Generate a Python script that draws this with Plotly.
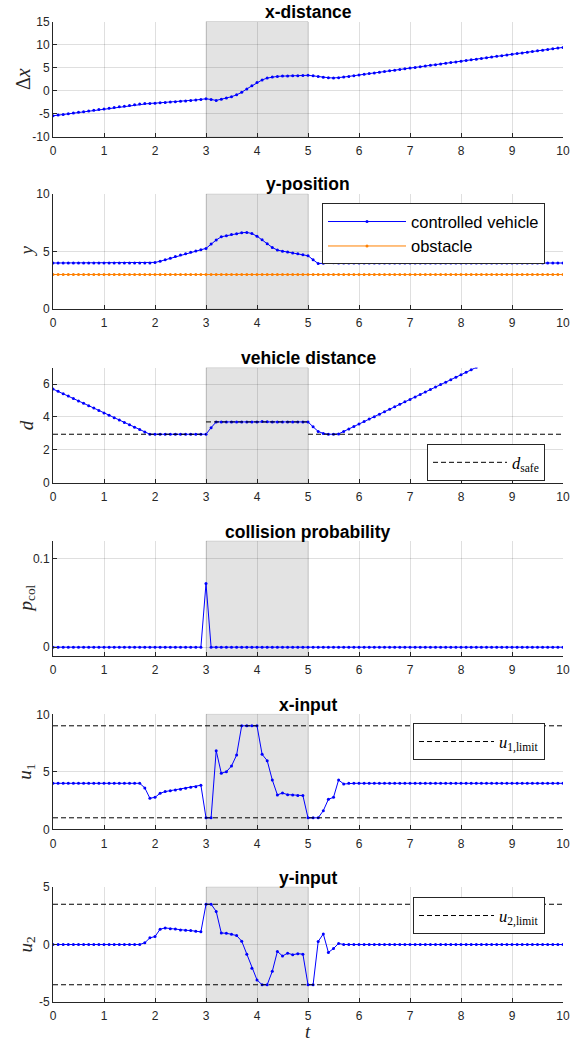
import plotly.graph_objects as go

# ---------------- data ----------------
t = [0.0, 0.1, 0.2, 0.3, 0.4, 0.5, 0.6, 0.7, 0.8, 0.9,
     1.0, 1.1, 1.2, 1.3, 1.4, 1.5, 1.6, 1.7, 1.8, 1.9,
     2.0, 2.1, 2.2, 2.3, 2.4, 2.5, 2.6, 2.7, 2.8, 2.9,
     3.0, 3.1, 3.2, 3.3, 3.4, 3.5, 3.6, 3.7, 3.8, 3.9,
     4.0, 4.1, 4.2, 4.3, 4.4, 4.5, 4.6, 4.7, 4.8, 4.9,
     5.0, 5.1, 5.2, 5.3, 5.4, 5.5, 5.6, 5.7, 5.8, 5.9,
     6.0, 6.1, 6.2, 6.3, 6.4, 6.5, 6.6, 6.7, 6.8, 6.9,
     7.0, 7.1, 7.2, 7.3, 7.4, 7.5, 7.6, 7.7, 7.8, 7.9,
     8.0, 8.1, 8.2, 8.3, 8.4, 8.5, 8.6, 8.7, 8.8, 8.9,
     9.0, 9.1, 9.2, 9.3, 9.4, 9.5, 9.6, 9.7, 9.8, 9.9,
     10.0]

dx = [-5.50, -5.35, -5.20, -5.05, -4.90, -4.75, -4.60, -4.45, -4.30, -4.15,
      -4.00, -3.85, -3.70, -3.55, -3.40, -3.25, -3.10, -2.95, -2.85, -2.80,
      -2.75, -2.68, -2.60, -2.52, -2.44, -2.36, -2.28, -2.18, -2.06, -1.94,
      -1.80, -1.95, -2.15, -1.90, -1.65, -1.35, -0.95, -0.40, 0.35, 1.05,
      1.75, 2.30, 2.70, 2.95, 3.07, 3.13, 3.17, 3.20, 3.23, 3.27,
      3.30, 3.18, 3.02, 2.88, 2.78, 2.72, 2.78, 2.92, 3.07, 3.22,
      3.37, 3.52, 3.67, 3.82, 3.97, 4.12, 4.27, 4.42, 4.57, 4.72,
      4.87, 5.02, 5.17, 5.32, 5.47, 5.62, 5.77, 5.92, 6.07, 6.22,
      6.37, 6.52, 6.67, 6.82, 6.97, 7.12, 7.27, 7.42, 7.57, 7.72,
      7.87, 8.02, 8.17, 8.32, 8.47, 8.62, 8.77, 8.92, 9.07, 9.22,
      9.37]

y_vehicle = [4.00, 4.00, 4.00, 4.00, 4.00, 4.00, 4.00, 4.00, 4.00, 4.00,
             4.00, 4.00, 4.00, 4.00, 4.00, 4.00, 4.00, 4.00, 4.00, 4.00,
             4.05, 4.15, 4.28, 4.42, 4.56, 4.69, 4.81, 4.93, 5.05, 5.15,
             5.27, 5.65, 6.00, 6.28, 6.38, 6.47, 6.55, 6.63, 6.66, 6.56,
             6.33, 6.03, 5.68, 5.35, 5.12, 5.03, 4.96, 4.88, 4.80, 4.72,
             4.63, 4.28, 3.95, 3.97, 4.07, 4.02, 4.00, 4.00, 4.00, 4.00,
             4.00, 4.00, 4.00, 4.00, 4.00, 4.00, 4.00, 4.00, 4.00, 4.00,
             4.00, 4.00, 4.00, 4.00, 4.00, 4.00, 4.00, 4.00, 4.00, 4.00,
             4.00, 4.00, 4.00, 4.00, 4.00, 4.00, 4.00, 4.00, 4.00, 4.00,
             4.00, 4.00, 4.00, 4.00, 4.00, 4.00, 4.00, 4.00, 4.00, 4.00,
             4.00]

y_obstacle = [3.0, 3.0, 3.0, 3.0, 3.0, 3.0, 3.0, 3.0, 3.0, 3.0,
              3.0, 3.0, 3.0, 3.0, 3.0, 3.0, 3.0, 3.0, 3.0, 3.0,
              3.0, 3.0, 3.0, 3.0, 3.0, 3.0, 3.0, 3.0, 3.0, 3.0,
              3.0, 3.0, 3.0, 3.0, 3.0, 3.0, 3.0, 3.0, 3.0, 3.0,
              3.0, 3.0, 3.0, 3.0, 3.0, 3.0, 3.0, 3.0, 3.0, 3.0,
              3.0, 3.0, 3.0, 3.0, 3.0, 3.0, 3.0, 3.0, 3.0, 3.0,
              3.0, 3.0, 3.0, 3.0, 3.0, 3.0, 3.0, 3.0, 3.0, 3.0,
              3.0, 3.0, 3.0, 3.0, 3.0, 3.0, 3.0, 3.0, 3.0, 3.0,
              3.0, 3.0, 3.0, 3.0, 3.0, 3.0, 3.0, 3.0, 3.0, 3.0,
              3.0, 3.0, 3.0, 3.0, 3.0, 3.0, 3.0, 3.0, 3.0, 3.0,
              3.0]

d = [5.70, 5.56, 5.41, 5.27, 5.12, 4.98, 4.83, 4.69, 4.54, 4.40,
     4.25, 4.11, 3.96, 3.82, 3.67, 3.53, 3.38, 3.24, 3.09, 2.95,
     2.95, 2.95, 2.95, 2.95, 2.95, 2.95, 2.95, 2.95, 2.95, 2.95,
     2.95, 3.35, 3.70, 3.70, 3.70, 3.70, 3.70, 3.70, 3.70, 3.70,
     3.70, 3.73, 3.71, 3.70, 3.70, 3.70, 3.70, 3.70, 3.70, 3.70,
     3.70, 3.40, 3.12, 3.00, 2.95, 2.95, 2.97, 3.12, 3.27, 3.42,
     3.57, 3.72, 3.87, 4.02, 4.17, 4.32, 4.47, 4.62, 4.77, 4.92,
     5.07, 5.22, 5.37, 5.52, 5.67, 5.82, 5.97, 6.12, 6.27, 6.42,
     6.57, 6.72, 6.87, 7.02, 7.17, 7.32, 7.47, 7.62, 7.77, 7.92,
     8.07, 8.22, 8.37, 8.52, 8.67, 8.82, 8.97, 9.12, 9.27, 9.42,
     9.57]

# safe distance (piecewise, gaps marked by None)
dsafe_t = [0, 3, None, 3, 5, None, 5, 10]
dsafe_v = [2.95, 2.95, None, 3.70, 3.70, None, 2.95, 2.95]

p_col = [0, 0, 0, 0, 0, 0, 0, 0, 0, 0,
         0, 0, 0, 0, 0, 0, 0, 0, 0, 0,
         0, 0, 0, 0, 0, 0, 0, 0, 0, 0,
         0.072, 0, 0, 0, 0, 0, 0, 0, 0, 0,
         0, 0, 0, 0, 0, 0, 0, 0, 0, 0,
         0, 0, 0, 0, 0, 0, 0, 0, 0, 0,
         0, 0, 0, 0, 0, 0, 0, 0, 0, 0,
         0, 0, 0, 0, 0, 0, 0, 0, 0, 0,
         0, 0, 0, 0, 0, 0, 0, 0, 0, 0,
         0, 0, 0, 0, 0, 0, 0, 0, 0, 0,
         0]

u1 = [4.0, 4.0, 4.0, 4.0, 4.0, 4.0, 4.0, 4.0, 4.0, 4.0,
      4.0, 4.0, 4.0, 4.0, 4.0, 4.0, 4.0, 4.0, 3.6, 2.7,
      2.78, 3.13, 3.28, 3.36, 3.42, 3.48, 3.57, 3.65, 3.71, 3.83,
      1.0, 1.0, 6.84, 4.87, 5.01, 5.50, 6.46, 9.0, 9.0, 9.0,
      9.0, 6.52, 5.97, 4.29, 2.99, 3.16, 3.01, 2.99, 2.93, 2.93,
      1.0, 1.0, 1.0, 1.62, 2.61, 2.78, 4.29, 3.94, 4.0, 4.0,
      4.0, 4.0, 4.0, 4.0, 4.0, 4.0, 4.0, 4.0, 4.0, 4.0,
      4.0, 4.0, 4.0, 4.0, 4.0, 4.0, 4.0, 4.0, 4.0, 4.0,
      4.0, 4.0, 4.0, 4.0, 4.0, 4.0, 4.0, 4.0, 4.0, 4.0,
      4.0, 4.0, 4.0, 4.0, 4.0, 4.0, 4.0, 4.0, 4.0, 4.0,
      4.0]

u2 = [0, 0, 0, 0, 0, 0, 0, 0, 0, 0,
      0, 0, 0, 0, 0, 0, 0, 0, 0.15, 0.58,
      0.69, 1.33, 1.44, 1.38, 1.35, 1.27, 1.24, 1.21, 1.15, 1.10,
      3.5, 3.5, 2.88, 1.00, 0.98, 0.90, 0.78, 0.29, -0.84, -2.07,
      -3.08, -3.5, -3.5, -2.33, -0.60, -1.00, -0.75, -0.89, -0.80, -0.84,
      -3.5, -3.5, 0.26, 0.92, -0.69, -0.35, 0.09, 0, 0, 0,
      0, 0, 0, 0, 0, 0, 0, 0, 0, 0,
      0, 0, 0, 0, 0, 0, 0, 0, 0, 0,
      0, 0, 0, 0, 0, 0, 0, 0, 0, 0,
      0, 0, 0, 0, 0, 0, 0, 0, 0, 0,
      0]

u1_limit = [1.0, 9.0]
u2_limit = [-3.5, 3.5]
shade_interval = [3, 5]

titles = ["x-distance", "y-position", "vehicle distance",
          "collision probability", "x-input", "y-input"]
ylabels = ["Δ<i>x</i>", "<i>y</i>", "<i>d</i>", "<i>p</i><sub>col</sub>",
           "<i>u</i><sub>1</sub>", "<i>u</i><sub>2</sub>"]
yranges = [[-10, 15], [0, 10], [0, 7], [-0.01, 0.12], [0, 10], [-5, 5]]
yticks = [[-10, -5, 0, 5, 10, 15], [0, 5, 10], [0, 2, 4, 6],
          [0, 0.1], [0, 5, 10], [-5, 0, 5]]
yticktext = [["-10", "-5", "0", "5", "10", "15"], ["0", "5", "10"],
             ["0", "2", "4", "6"], ["0", "0.1"], ["0", "5", "10"],
             ["-5", "0", "5"]]
xticks = [0, 1, 2, 3, 4, 5, 6, 7, 8, 9, 10]

# ---------------- layout geometry (pixels) ----------------
W, H = 580, 1042
X0, X1 = 53, 563
tops = [21.5, 194.0, 367.7, 541.0, 714.3, 887.0]
PH = 115.0

def py(p):
    return 1 - p / H

def px(p):
    return p / W

BLUE = "#0000ff"
ORANGE = "#ff8000"
AX = "#262626"
SANS = "Liberation Sans, Arial, sans-serif"
SERIF = "Liberation Serif, Times New Roman, serif"

fig = go.Figure()

def ax_names(i):
    s = "" if i == 0 else str(i + 1)
    return "x" + s, "y" + s

def add_line(i, x, y, name=None, color=BLUE, legend=None, show=False,
             dash=None, markers=True):
    xa, ya = ax_names(i)
    fig.add_trace(go.Scatter(
        x=x, y=y, name=name, xaxis=xa, yaxis=ya,
        mode="lines+markers" if markers else "lines",
        line=dict(color=color, width=1, dash=dash),
        marker=dict(size=3, color=color, line=dict(width=0)),
        showlegend=show, legend=legend, connectgaps=False,
        hoverinfo="skip"))

add_line(0, t, dx)
add_line(1, t, y_vehicle, name="controlled vehicle", legend="legend", show=True)
add_line(1, t, y_obstacle, name="obstacle", color=ORANGE, legend="legend", show=True)
add_line(2, t, d)
add_line(2, dsafe_t, dsafe_v, name="<i>d</i><sub>safe</sub>", color="#000000",
         legend="legend2", show=True, dash="5px,3px", markers=False)
add_line(3, t, p_col)
add_line(4, t, u1)
add_line(4, [0, 10, None, 0, 10],
         [u1_limit[0], u1_limit[0], None, u1_limit[1], u1_limit[1]],
         name="<i>u</i><sub>1,limit</sub>", color="#000000",
         legend="legend3", show=True, dash="5px,3px", markers=False)
add_line(5, t, u2)
add_line(5, [0, 10, None, 0, 10],
         [u2_limit[0], u2_limit[0], None, u2_limit[1], u2_limit[1]],
         name="<i>u</i><sub>2,limit</sub>", color="#000000",
         legend="legend4", show=True, dash="5px,3px", markers=False)

layout = dict(
    width=W, height=H,
    margin=dict(l=0, r=0, t=0, b=0, pad=0, autoexpand=False),
    paper_bgcolor="white", plot_bgcolor="white",
    font=dict(family=SANS, size=12, color=AX),
    hovermode=False,
)

annotations = []
shapes = []
for i in range(6):
    s = "" if i == 0 else str(i + 1)
    top = tops[i]
    bot = top + PH
    layout["xaxis" + s] = dict(
        domain=[px(X0), px(X1)], anchor="y" + s, range=[0, 10],
        tickvals=xticks, ticks="inside", ticklen=4, tickcolor=AX, tickwidth=1,
        showline=True, linecolor=AX, linewidth=1, mirror=False,
        showgrid=True, gridcolor="rgba(38,38,38,0.15)", gridwidth=1,
        zeroline=False, tickfont=dict(size=12, color=AX, family=SANS),
        ticklabelstandoff=3, automargin=False, fixedrange=True)
    layout["yaxis" + s] = dict(
        domain=[py(bot), py(top)], anchor="x" + s, range=yranges[i],
        tickvals=yticks[i], ticktext=yticktext[i],
        ticks="inside", ticklen=4, tickcolor=AX, tickwidth=1,
        showline=True, linecolor=AX, linewidth=1, mirror=False,
        showgrid=True, gridcolor="rgba(38,38,38,0.15)", gridwidth=1,
        zeroline=False, tickfont=dict(size=12, color=AX, family=SANS),
        automargin=False, fixedrange=True)
    shapes.append(dict(
        type="rect", xref="x" + s, yref="y" + s + " domain",
        x0=shade_interval[0], x1=shade_interval[1], y0=0, y1=1,
        fillcolor="rgba(0,0,0,0.11)",
        line=dict(width=0.6, color="rgba(0,0,0,0.18)"), layer="below"))
    annotations.append(dict(
        text="<b>" + titles[i] + "</b>", xref="paper", yref="paper",
        x=px((X0 + X1) / 2), y=py(top - 9.5), xanchor="center",
        yanchor="middle", showarrow=False,
        font=dict(size=17.5, family=SANS, color="#000000")))
    annotations.append(dict(
        text=ylabels[i], xref="paper", yref="paper",
        x=px(23 if i == 0 else 26), y=py(top + PH / 2), xanchor="center",
        yanchor="middle", textangle=-90, showarrow=False,
        font=dict(size=20 if i == 0 else 19, family=SERIF, color=AX)))

annotations.append(dict(
    text="<i>t</i>", xref="paper", yref="paper",
    x=px((X0 + X1) / 2), y=py(1031), xanchor="center", yanchor="middle",
    showarrow=False, font=dict(size=19, family=SERIF, color=AX)))

layout["annotations"] = annotations
layout["shapes"] = shapes

leg_common = dict(xanchor="right", yanchor="top", bgcolor="white",
                  bordercolor=AX, borderwidth=1, tracegroupgap=0)
layout["legend"] = dict(leg_common, x=px(545), y=py(203.3), itemwidth=78,
                        font=dict(size=16.5, family=SANS, color="#000000"))
layout["legend2"] = dict(leg_common, x=px(545), y=py(444.1), itemwidth=74,
                         font=dict(size=16.5, family=SERIF, color="#000000"))
layout["legend3"] = dict(leg_common, x=px(545), y=py(723.3), itemwidth=75,
                         font=dict(size=16.5, family=SERIF, color="#000000"))
layout["legend4"] = dict(leg_common, x=px(545), y=py(897.3), itemwidth=75,
                         font=dict(size=16.5, family=SERIF, color="#000000"))

fig.update_layout(**layout)
fig.write_html("out.html",
               config={"displayModeBar": False},
               post_script="document.body.style.margin='0';"
                           "document.body.style.overflow='hidden';")
